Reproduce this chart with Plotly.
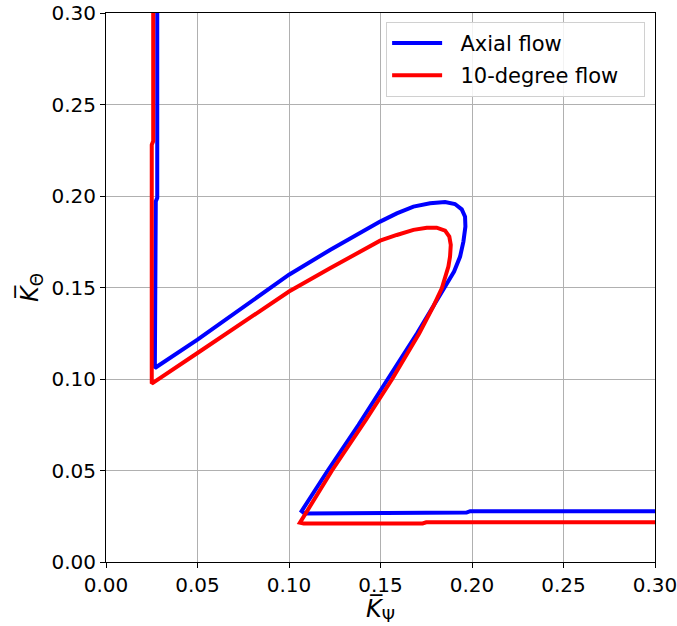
import plotly.graph_objects as go

# Axial flow curve (K_psi, K_theta)
axial_x = [0.0280, 0.0280, 0.0272, 0.0272, 0.0267, 0.0267, 0.0500, 0.1000, 0.1224, 0.1498,
           0.1589, 0.1680, 0.1771, 0.1853, 0.1907, 0.1944, 0.1962, 0.1964, 0.1953, 0.1935,
           0.1902, 0.1850, 0.1790, 0.1700, 0.1540, 0.1380, 0.1212, 0.1069,
           0.1085, 0.1200, 0.1220, 0.1970, 0.1990, 0.3000]
axial_y = [0.3000, 0.1990, 0.1970, 0.1210, 0.1190, 0.1060, 0.1215, 0.1570, 0.1705, 0.1860,
           0.1905, 0.1942, 0.1960, 0.1967, 0.1956, 0.1927, 0.1887, 0.1833, 0.1751, 0.1669,
           0.1587, 0.1500, 0.1400, 0.1250, 0.1000, 0.0750, 0.0500, 0.0278,
           0.0265, 0.0265, 0.0270, 0.0270, 0.0278, 0.0278]

# 10-degree flow curve
deg10_x = [0.0258, 0.0258, 0.0250, 0.0250, 0.0500, 0.1000, 0.1224, 0.1498, 0.1589, 0.1680,
           0.1753, 0.1807, 0.1853, 0.1876, 0.1884, 0.1880, 0.1871, 0.1853, 0.1835, 0.1790,
           0.1712, 0.1564, 0.1420, 0.1235, 0.1060, 0.1080, 0.1730, 0.1750, 0.3000]
deg10_y = [0.3000, 0.2300, 0.2280, 0.0975, 0.1142, 0.1478, 0.1605, 0.1756, 0.1787, 0.1815,
           0.1827, 0.1827, 0.1811, 0.1778, 0.1733, 0.1669, 0.1615, 0.1551, 0.1496, 0.1400,
           0.1250, 0.1000, 0.0776, 0.0500, 0.0215, 0.0211, 0.0211, 0.0217, 0.0217]

tick_vals = [0.00, 0.05, 0.10, 0.15, 0.20, 0.25, 0.30]
tick_text = ["0.00", "0.05", "0.10", "0.15", "0.20", "0.25", "0.30"]

NB = "\u00a0"
fig = go.Figure()
fig.add_trace(go.Scatter(x=axial_x, y=axial_y, mode="lines", name=NB * 2 + "Axial flow" + NB * 3,
                         legendgroup="a", line=dict(color="#0000ff", width=4)))
fig.add_trace(go.Scatter(x=deg10_x, y=deg10_y, mode="lines", name=NB * 2 + "10-degree flow" + NB * 3,
                         legendgroup="b", line=dict(color="#ff0000", width=4)))

axis_common = dict(
    range=[0, 0.3], tickvals=tick_vals, ticktext=tick_text,
    showgrid=True, gridcolor="#b0b0b0", gridwidth=1,
    showline=True, linecolor="black", linewidth=1, mirror=True,
    ticks="outside", ticklen=5, tickcolor="black", zeroline=False,
    automargin=False, ticklabeloverflow="allow",
    tickfont=dict(family="DejaVu Sans", size=20, color="black"),
)

fig.update_layout(
    width=677, height=626,
    margin=dict(l=106, r=22, t=13, b=64),
    paper_bgcolor="white", plot_bgcolor="white",
    font=dict(family="DejaVu Sans", color="black"),
    xaxis=dict(axis_common, title=dict(text="<i>K\u0305</i><sub>\u03a8</sub>", font=dict(size=24), standoff=4)),
    yaxis=dict(axis_common, title=dict(text="<i>K\u0305</i><sub>\u0398</sub>", font=dict(size=24), standoff=6)),
    legend=dict(x=0.982, y=0.984, xanchor="right", yanchor="top", itemwidth=50,
                tracegroupgap=2,
                bgcolor="rgba(255,255,255,0.85)", bordercolor="#d0d0d0", borderwidth=1,
                font=dict(family="DejaVu Sans", size=21, color="black")),
    showlegend=True,
)

# remove the default 8px page margin so the figure fills the window
fig.write_html("out.html", config={"displayModeBar": False},
               post_script="document.body.style.margin='0px';")
